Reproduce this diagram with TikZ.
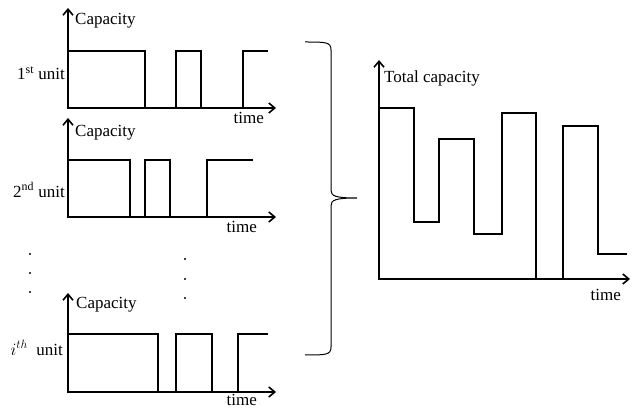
\documentclass[tikz,border=0pt]{standalone}
\usepackage{fontspec}
\setmainfont{Liberation Serif}
\usetikzlibrary{arrows.meta}
\begin{document}
\begin{tikzpicture}[x=1pt,y=-1pt,
  axis/.style={line width=1.6pt,-{Straight Barb[length=6pt,width=10pt,line width=1.6pt]}},
  wave/.style={line width=1.6pt,line join=miter},
  lbl/.style={font=\fontsize{17}{20}\selectfont,inner sep=0pt},
  dotmark/.style={circle,fill,inner sep=0pt,minimum size=2.2pt}]
\useasboundingbox (0,0) rectangle (633,409);
% ---- unit 1
\draw[axis] (68,109) -- (68,8);
\draw[axis] (67,108) -- (276,108);
\draw[wave] (68,51) -- (145,51) -- (145,108) (176,108) -- (176,51) -- (201,51) -- (201,108) (243,108) -- (243,51) -- (268,51);
\node[lbl,anchor=west] (c1) at (75,21) {Capacity};
\node[lbl,anchor=east] (u1) at (65,73) {1\textsuperscript{st} unit};
\node[lbl,anchor=east] (t1) at (264,118) {time};
% ---- unit 2
\draw[axis] (68,218) -- (68,118);
\draw[axis] (67,217) -- (276,217);
\draw[wave] (68,160) -- (130,160) -- (130,217) (145,217) -- (145,160) -- (170,160) -- (170,217) (207,217) -- (207,160) -- (253,160);
\node[lbl,anchor=west] (c2) at (75,133) {Capacity};
\node[lbl,anchor=east] (u2) at (65,190) {2\textsuperscript{nd} unit};
\node[lbl,anchor=east] (t2) at (257,227) {time};
% ---- dots
\node[dotmark] (d1) at (30,254) {};
\node[dotmark] (d2) at (30,273) {};
\node[dotmark] (d3) at (30,292) {};
\node[dotmark] (d4) at (185,259) {};
\node[dotmark] (d5) at (185,279) {};
\node[dotmark] (d6) at (185,298) {};
% ---- unit i
\draw[axis] (68,393) -- (68,293);
\draw[axis] (67,392) -- (276,392);
\draw[wave] (68,334) -- (158,334) -- (158,392) (176,392) -- (176,334) -- (212,334) -- (212,392) (238,392) -- (238,334) -- (268,334);
\node[lbl,anchor=west] (c3) at (76,305) {Capacity};
\node[lbl,anchor=east] (u3) at (63,348) {$i^{th}$\ \ unit};
\node[lbl,anchor=east] (t3) at (257,400) {time};
% ---- brace
\draw[line width=1pt] (305,42) .. controls (326,42) and (331,42) .. (331,50) -- (331,190) .. controls (331,196) and (335,198) .. (357,198) .. controls (335,198) and (331,200) .. (331,206) -- (331,347) .. controls (331,355) and (326,355) .. (305,355);
% ---- total
\draw[axis] (379,280) -- (379,60);
\draw[axis] (378,279) -- (630,279);
\draw[wave] (379,108) -- (414,108) -- (414,222) -- (439,222) -- (439,139) -- (474,139) -- (474,234) -- (502,234) -- (502,113) -- (536,113) -- (536,279) (563,279) -- (563,126) -- (598,126) -- (598,254) -- (627,254);
\node[lbl,anchor=west] (tc) at (384,78) {Total capacity};
\node[lbl,anchor=east] (t4) at (621,295) {time};
\end{tikzpicture}
\end{document}
